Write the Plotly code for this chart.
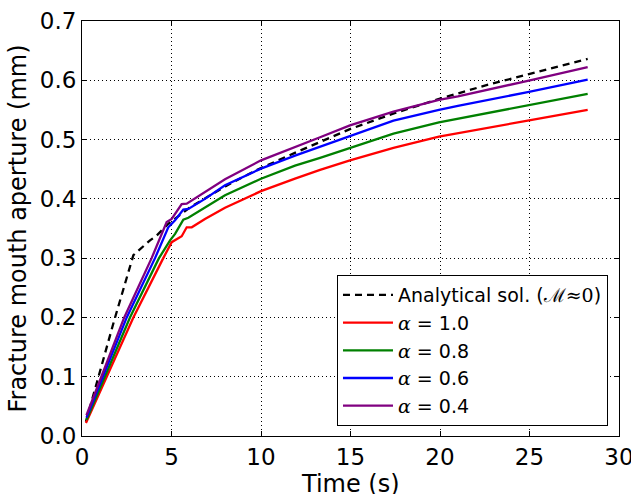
import plotly.graph_objects as go

# Analytical solution (M ~ 0)
t_analytical = [0.22, 1.8, 2.87, 3.8, 4.17, 4.82, 5.57, 6.0, 7.0, 8.0, 9.0, 10.0, 12.0,
                13.3, 15.0, 17.5, 20.0, 22.5, 25.0, 28.25]
w_analytical = [0.024, 0.195, 0.305, 0.330, 0.338, 0.358, 0.375, 0.385, 0.403, 0.421,
                0.437, 0.452, 0.479, 0.496, 0.518, 0.545, 0.569, 0.591, 0.611, 0.636]

# Numerical results for each alpha
t_a10 = [0.22, 2.87, 4.54, 5.01, 5.57, 5.85, 6.13, 6.87, 7.99, 10.0, 11.9, 13.3, 14.97,
         17.4, 19.94, 21.0, 24.9, 28.25]
w_a10 = [0.022, 0.200, 0.300, 0.327, 0.337, 0.352, 0.352, 0.366, 0.385, 0.413, 0.434,
         0.449, 0.465, 0.486, 0.505, 0.511, 0.532, 0.550]

t_a08 = [0.25, 2.68, 4.30, 4.92, 5.20, 5.66, 5.94, 6.87, 7.99, 10.0, 11.9, 13.3, 14.97,
         17.4, 19.94, 21.0, 24.9, 28.25]
w_a08 = [0.027, 0.200, 0.300, 0.330, 0.341, 0.365, 0.368, 0.385, 0.406, 0.434, 0.456,
         0.469, 0.486, 0.510, 0.529, 0.535, 0.557, 0.577]

t_a06 = [0.25, 2.50, 4.08, 4.82, 5.20, 5.66, 5.94, 6.87, 7.99, 10.0, 11.9, 13.3, 14.97,
         17.4, 19.94, 21.0, 24.9, 28.25]
w_a06 = [0.031, 0.200, 0.300, 0.352, 0.364, 0.382, 0.383, 0.400, 0.423, 0.451, 0.473,
         0.488, 0.507, 0.532, 0.550, 0.557, 0.580, 0.601]

t_a04 = [0.25, 2.36, 3.89, 4.73, 5.01, 5.57, 5.85, 6.87, 7.99, 10.0, 11.9, 13.3, 14.97,
         17.4, 19.94, 21.0, 24.9, 28.25]
w_a04 = [0.035, 0.200, 0.300, 0.361, 0.366, 0.391, 0.392, 0.411, 0.433, 0.465, 0.487,
         0.504, 0.524, 0.547, 0.567, 0.573, 0.599, 0.622]

x_ticks = [0, 5, 10, 15, 20, 25, 30]
y_ticks = [0.0, 0.1, 0.2, 0.3, 0.4, 0.5, 0.6, 0.7]
y_tick_text = ["0.0", "0.1", "0.2", "0.3", "0.4", "0.5", "0.6", "0.7"]
x_title = "Time (s)"
y_title = "Fracture mouth aperture (mm)"

FONT = "DejaVu Sans"
MATH = '<span style="font-family:DejaVu Serif"><i>α</i></span>'

fig = go.Figure()
fig.add_trace(go.Scatter(x=t_analytical, y=w_analytical, mode="lines",
                         line=dict(color="black", width=2.3, dash="7px,5px"),
                         name='Analytical sol. (<span style="font-family:DejaVu Serif">ℳ≈0</span>)'))
series = [
    (t_a10, w_a10, "#ff0000", "1.0"),
    (t_a08, w_a08, "#008000", "0.8"),
    (t_a06, w_a06, "#0000ff", "0.6"),
    (t_a04, w_a04, "#800080", "0.4"),
]
for t, w, c, a in series:
    fig.add_trace(go.Scatter(x=t, y=w, mode="lines", line=dict(color=c, width=2.3),
                             name=f"{MATH} = {a}"))

axis_common = dict(
    showline=True, linecolor="black", linewidth=1, mirror="allticks",
    ticks="inside", ticklen=5, tickwidth=1, tickcolor="black",
    showgrid=True, gridcolor="black", gridwidth=1, griddash="1px,3px",
    zeroline=False, tickfont=dict(family=FONT, size=23, color="black"),
    ticklabeloverflow="allow", automargin=False,
)

fig.update_xaxes(range=[0, 30], tickvals=x_ticks, **axis_common)
fig.update_yaxes(range=[0, 0.7], tickvals=y_ticks, ticktext=y_tick_text, **axis_common,
                 ticklabelstandoff=0,
                 title=dict(text=y_title,
                            font=dict(family=FONT, size=24, color="black"), standoff=6))

# x-axis title placed just below the tick labels
fig.add_annotation(text=x_title, xref="paper", yref="paper", x=0.5, y=0,
                   xanchor="center", yanchor="top", yshift=-32, showarrow=False,
                   font=dict(family=FONT, size=24, color="black"))

fig.update_layout(
    width=631, height=494,
    margin=dict(l=82, r=12, t=21, b=58, pad=0, autoexpand=False),
    paper_bgcolor="white", plot_bgcolor="white",
    font=dict(family=FONT, color="black"),
    legend=dict(x=0.9795, y=0.024, xanchor="right", yanchor="bottom",
                bgcolor="white", bordercolor="black", borderwidth=1,
                itemwidth=50,
                font=dict(family=FONT, size=19, color="black")),
    showlegend=True,
)

fig.write_html("out.html")
